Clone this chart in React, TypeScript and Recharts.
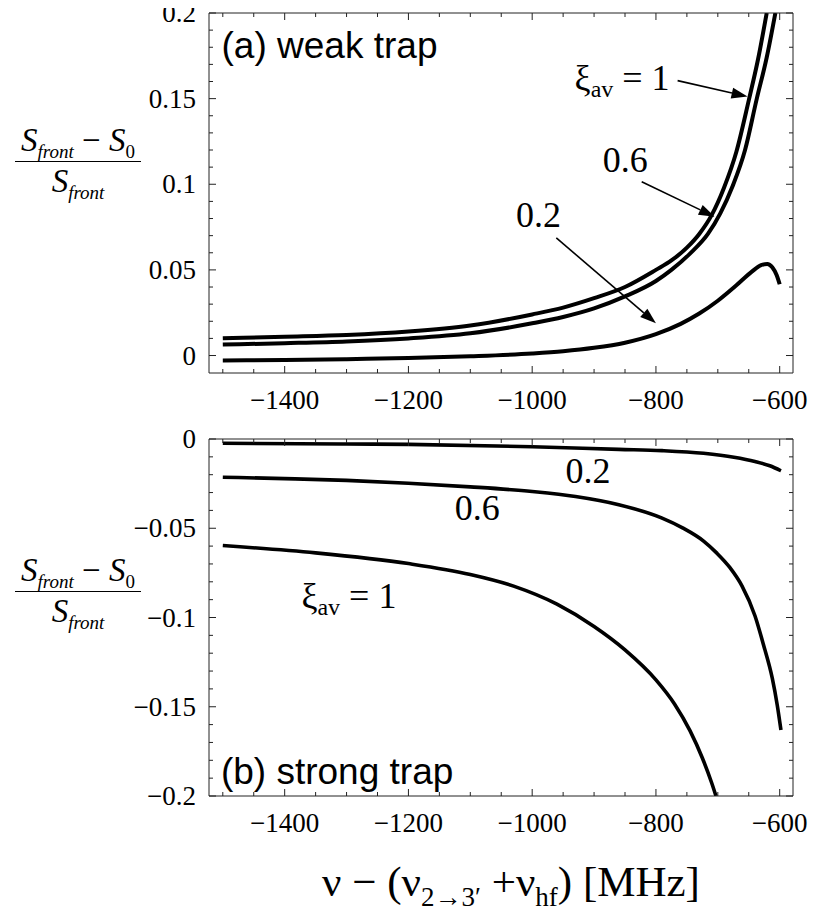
import React from "react"
import { LineChart, Line, XAxis, YAxis, ReferenceLine, ReferenceDot } from "recharts"

const SERIF = '"Liberation Serif", "Times New Roman", serif'
const SANS = '"Liberation Sans", Arial, sans-serif'
const INK = "#000"
const FRAME = "#222"

// frequency axis, shared by both panels
const X_DOMAIN = [-1522.3, -578.5]
const X_TICKS = [-1500, -1450, -1400, -1350, -1300, -1250, -1200, -1150, -1100, -1050, -1000, -950, -900, -850, -800, -750, -700, -650, -600]
const X_MAJOR = [-1400, -1200, -1000, -800, -600]

// (a) weak trap
const WEAK_Y_DOMAIN = [-0.0102, 0.2]
const WEAK_Y_TICKS = [0, 0.01, 0.02, 0.03, 0.04, 0.05, 0.06, 0.07, 0.08, 0.09, 0.1, 0.11, 0.12, 0.13, 0.14, 0.15, 0.16, 0.17, 0.18, 0.19, 0.2]
const WEAK_Y_MAJOR = [0, 0.05, 0.1, 0.15, 0.2]

const weakXi1X = [-1500, -1400, -1300, -1200, -1100, -1000, -950, -900, -850, -800, -775, -750, -730, -710, -690, -670, -650, -635, -621]
const weakXi1Y = [0.0101, 0.011, 0.012, 0.014, 0.0175, 0.024, 0.028, 0.0335, 0.04, 0.05, 0.0555, 0.063, 0.071, 0.082, 0.098, 0.119, 0.149, 0.173, 0.2]
const weakXi06X = [-1500, -1400, -1300, -1200, -1100, -1000, -950, -900, -850, -800, -775, -745, -716, -696, -676, -656, -637, -621, -607]
const weakXi06Y = [0.0064, 0.0072, 0.0082, 0.01, 0.013, 0.0188, 0.0225, 0.0275, 0.0345, 0.0435, 0.05, 0.0595, 0.071, 0.083, 0.099, 0.12, 0.15, 0.174, 0.2]
const weakXi02X = [-1500, -1400, -1300, -1200, -1100, -1000, -950, -900, -850, -800, -760, -730, -700, -670, -645, -630, -620, -612, -605, -600]
const weakXi02Y = [-0.0029, -0.0026, -0.0021, -0.0015, -0.0004, 0.0012, 0.0025, 0.0045, 0.0075, 0.0125, 0.0185, 0.0245, 0.032, 0.041, 0.049, 0.0528, 0.0535, 0.0515, 0.047, 0.0416]

// (b) strong trap
const STRONG_Y_DOMAIN = [-0.2, 0]
const STRONG_Y_TICKS = [0, -0.01, -0.02, -0.03, -0.04, -0.05, -0.06, -0.07, -0.08, -0.09, -0.1, -0.11, -0.12, -0.13, -0.14, -0.15, -0.16, -0.17, -0.18, -0.19, -0.2]
const STRONG_Y_MAJOR = [0, -0.05, -0.1, -0.15, -0.2]

const strongXi02X = [-1500, -1300, -1200, -1000, -860, -790, -723, -674, -640, -616, -598]
const strongXi02Y = [-0.0024, -0.0028, -0.003, -0.0043, -0.0058, -0.0065, -0.008, -0.0102, -0.0126, -0.015, -0.0178]
const strongXi06X = [-1500, -1400, -1300, -1200, -1100, -1000, -930, -860, -791, -757, -723, -702, -681, -661, -640, -626, -612, -604, -598]
const strongXi06Y = [-0.0214, -0.0222, -0.0232, -0.0248, -0.0268, -0.0294, -0.0322, -0.0368, -0.0442, -0.0498, -0.0572, -0.0638, -0.0718, -0.0823, -0.099, -0.1155, -0.134, -0.149, -0.163]
const strongXi1X = [-1500, -1350, -1200, -1100, -1030, -960, -900, -850, -800, -770, -745, -725, -710, -703]
const strongXi1Y = [-0.0597, -0.0638, -0.0698, -0.0759, -0.0824, -0.0925, -0.105, -0.1181, -0.1349, -0.1484, -0.1634, -0.1787, -0.1926, -0.2]

const toPoints = (xs: number[], ys: number[]) => xs.map((x, i) => ({ x, y: ys[i] }))

const fmt = (v: number) => (v === 0 ? "0" : v < 0 ? `\u2212${Math.abs(v)}` : String(v))

function xTick(side: "bottom" | "top") {
  return (p: any) => {
    const v = p.payload.value
    const major = X_MAJOR.includes(v)
    const len = major ? 7 : 4
    const dir = side === "bottom" ? -1 : 1
    return (
      <g>
        <line x1={p.x} x2={p.x} y1={p.y} y2={p.y + dir * len} stroke={FRAME} strokeWidth={1} />
        {side === "bottom" && major && (
          <text x={p.x} y={p.y + 36} textAnchor="middle" fontFamily={SERIF} style={{ fontFamily: SERIF }} fontSize={27} fill={INK}>
            {fmt(v)}
          </text>
        )}
      </g>
    )
  }
}

function yTick(side: "left" | "right", majors: number[]) {
  return (p: any) => {
    const v = p.payload.value
    const major = majors.includes(v)
    const len = major ? 7 : 4
    const dir = side === "left" ? 1 : -1
    return (
      <g>
        <line x1={p.x} x2={p.x + dir * len} y1={p.y} y2={p.y} stroke={FRAME} strokeWidth={1} />
        {side === "left" && major && (
          <text x={p.x - 13} y={p.y + 9} textAnchor="end" fontFamily={SERIF} style={{ fontFamily: SERIF }} fontSize={27} fill={INK}>
            {fmt(v)}
          </text>
        )}
      </g>
    )
  }
}

function Arrow(p: any) {
  const { x1, y1, x2, y2 } = p
  const dx = x2 - x1
  const dy = y2 - y1
  const len = Math.hypot(dx, dy) || 1
  const ux = dx / len
  const uy = dy / len
  const hl = 16
  const hw = 5.5
  const bx = x2 - ux * hl
  const by = y2 - uy * hl
  return (
    <g>
      <line x1={x1} y1={y1} x2={bx} y2={by} stroke={INK} strokeWidth={1.6} />
      <polygon points={`${x2},${y2} ${bx - uy * hw},${by + ux * hw} ${bx + uy * hw},${by - ux * hw}`} fill={INK} />
    </g>
  )
}

function serifLabel(text: string) {
  return (p: any) => (
    <text x={p.cx} y={p.cy} fontFamily={SERIF} style={{ fontFamily: SERIF }} fontSize={36} fill={INK}>
      {text}
    </text>
  )
}

function xiLabel(p: any) {
  return (
    <text x={p.cx} y={p.cy} fontFamily={SERIF} style={{ fontFamily: SERIF }} fontSize={36} fill={INK}>
      ξ
      <tspan fontSize={24} dy={7}>av</tspan>
      <tspan dy={-7}> = 1</tspan>
    </text>
  )
}

function panelLabel(text: string) {
  return (p: any) => (
    <text x={p.cx} y={p.cy} fontFamily={SANS} style={{ fontFamily: SANS }} fontSize={37} fill={INK}>
      {text}
    </text>
  )
}

function Fraction({ top }: { top: number }) {
  const sub = { fontSize: 19, verticalAlign: "-7px", lineHeight: 0 }
  return (
    <div style={{ position: "absolute", left: 15, top, width: 126, fontFamily: SERIF, fontSize: 33, textAlign: "center", lineHeight: "38px" }}>
      <div style={{ whiteSpace: "nowrap" }}>
        <i>S</i>
        <i style={sub}>front</i>
        <span> − </span>
        <i>S</i>
        <span style={sub}>0</span>
      </div>
      <div style={{ borderTop: "1.5px solid #000", margin: "2px 0 0 0" }} />
      <div style={{ whiteSpace: "nowrap" }}>
        <i>S</i>
        <i style={sub}>front</i>
      </div>
    </div>
  )
}

function Frame({ yDomain, yTicks, yMajor }: { yDomain: number[]; yTicks: number[]; yMajor: number[] }) {
  return (
    <>
      <XAxis xAxisId="b" type="number" dataKey="x" domain={X_DOMAIN} allowDataOverflow ticks={X_TICKS} interval={0}
        tick={xTick("bottom")} tickLine={false} tickSize={0} tickMargin={0} axisLine={{ stroke: FRAME }} height={60} />
      <XAxis xAxisId="t" orientation="top" type="number" dataKey="x" domain={X_DOMAIN} allowDataOverflow ticks={X_TICKS} interval={0}
        tick={xTick("top")} tickLine={false} tickSize={0} tickMargin={0} axisLine={{ stroke: FRAME }} height={1} />
      <YAxis yAxisId="l" type="number" domain={yDomain} allowDataOverflow ticks={yTicks} interval={0}
        tick={yTick("left", yMajor)} tickLine={false} tickSize={0} tickMargin={0} axisLine={{ stroke: FRAME }} width={209} />
      <YAxis yAxisId="r" orientation="right" type="number" domain={yDomain} allowDataOverflow ticks={yTicks} interval={0}
        tick={yTick("right", yMajor)} tickLine={false} tickSize={0} tickMargin={0} axisLine={{ stroke: FRAME }} width={1} />
    </>
  )
}

const lineProps = {
  xAxisId: "b",
  yAxisId: "l",
  dataKey: "y",
  type: "monotone" as const,
  stroke: INK,
  dot: false,
  isAnimationActive: false,
}

export default function App() {
  return (
    <div style={{ position: "relative", width: 816, height: 913, margin: "-8px 0 0 -8px", background: "#fff", overflow: "hidden" }}>
      <div style={{ position: "absolute", left: 0, top: 0 }}>
        <LineChart width={816} height={440} margin={{ top: 12, right: 22, bottom: 7, left: 0 }} style={{ overflow: "visible" }}>
          {Frame({ yDomain: WEAK_Y_DOMAIN, yTicks: WEAK_Y_TICKS, yMajor: WEAK_Y_MAJOR })}
          <Line {...lineProps} data={toPoints(weakXi1X, weakXi1Y)} strokeWidth={4} />
          <Line {...lineProps} data={toPoints(weakXi06X, weakXi06Y)} strokeWidth={4} />
          <Line {...lineProps} data={toPoints(weakXi02X, weakXi02Y)} strokeWidth={4} />
          <ReferenceLine xAxisId="b" yAxisId="l" segment={[{ x: -765, y: 0.1605 }, { x: -652, y: 0.1512 }]} shape={Arrow} />
          <ReferenceLine xAxisId="b" yAxisId="l" segment={[{ x: -823, y: 0.1015 }, { x: -705, y: 0.081 }]} shape={Arrow} />
          <ReferenceLine xAxisId="b" yAxisId="l" segment={[{ x: -961, y: 0.0687 }, { x: -800, y: 0.0188 }]} shape={Arrow} />
          <ReferenceDot xAxisId="b" yAxisId="l" x={-1502} y={0.174} r={1} shape={panelLabel("(a) weak trap")} />
          <ReferenceDot xAxisId="b" yAxisId="l" x={-931.5} y={0.1553} r={1} shape={xiLabel} />
          <ReferenceDot xAxisId="b" yAxisId="l" x={-886} y={0.1073} r={1} shape={serifLabel("0.6")} />
          <ReferenceDot xAxisId="b" yAxisId="l" x={-1026} y={0.0753} r={1} shape={serifLabel("0.2")} />
        </LineChart>
      </div>
      <div style={{ position: "absolute", left: 0, top: 410 }}>
        <LineChart width={816} height={450} margin={{ top: 28, right: 22, bottom: 4, left: 0 }}>
          {Frame({ yDomain: STRONG_Y_DOMAIN, yTicks: STRONG_Y_TICKS, yMajor: STRONG_Y_MAJOR })}
          <Line {...lineProps} data={toPoints(strongXi02X, strongXi02Y)} strokeWidth={3.6} />
          <Line {...lineProps} data={toPoints(strongXi06X, strongXi06Y)} strokeWidth={3.6} />
          <Line {...lineProps} data={toPoints(strongXi1X, strongXi1Y)} strokeWidth={3.6} />
          <ReferenceDot xAxisId="b" yAxisId="l" x={-946} y={-0.0247} r={1} shape={serifLabel("0.2")} />
          <ReferenceDot xAxisId="b" yAxisId="l" x={-1125} y={-0.0452} r={1} shape={serifLabel("0.6")} />
          <ReferenceDot xAxisId="b" yAxisId="l" x={-1373} y={-0.0944} r={1} shape={xiLabel} />
          <ReferenceDot xAxisId="b" yAxisId="l" x={-1503} y={-0.193} r={1} shape={panelLabel("(b) strong trap")} />
        </LineChart>
      </div>
      <Fraction top={121} />
      <Fraction top={551} />
      <div style={{ position: "absolute", left: 322, top: 859, fontFamily: SERIF, fontSize: 43, whiteSpace: "nowrap", lineHeight: "46px" }}>
        ν − (ν<sub style={{ fontSize: 27, lineHeight: 0 }}>2→3′</sub> +ν<sub style={{ fontSize: 27, lineHeight: 0 }}>hf</sub>) [MHz]
      </div>
    </div>
  )
}
